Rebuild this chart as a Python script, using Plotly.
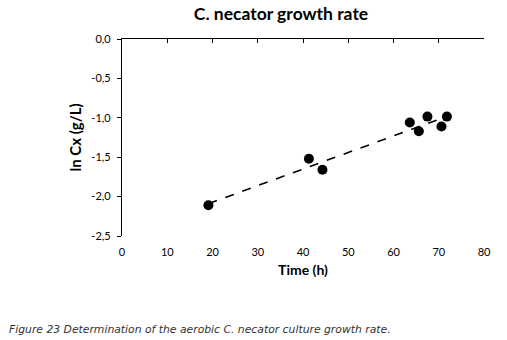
import numpy as np
import plotly.graph_objects as go

time_h = [19.1, 41.3, 44.3, 63.6, 65.6, 67.5, 70.6, 71.8]
ln_cx = [-2.11, -1.52, -1.66, -1.06, -1.17, -0.985, -1.11, -0.985]
x_ticks = [0, 10, 20, 30, 40, 50, 60, 70, 80]
y_ticks = [0.0, -0.5, -1.0, -1.5, -2.0, -2.5]
y_ticktext = [f"{v:.1f}".replace(".", ",") for v in y_ticks]

slope, intercept = np.polyfit(time_h, ln_cx, 1)
fit_x = [min(time_h), max(time_h)]
fit_y = [slope * v + intercept for v in fit_x]

FONT = "Lato"

fig = go.Figure()
fig.add_trace(go.Scatter(x=fit_x, y=fit_y, mode="lines",
                         line=dict(color="black", width=1.6, dash="dash"),
                         showlegend=False, hoverinfo="skip"))
fig.add_trace(go.Scatter(x=time_h, y=ln_cx, mode="markers",
                         marker=dict(color="black", size=10),
                         showlegend=False))
fig.add_trace(go.Scatter(x=[None], y=[None], xaxis="x2", showlegend=False))

fig.update_layout(
    width=507, height=340,
    margin=dict(l=122, r=23, t=39, b=104),
    paper_bgcolor="white", plot_bgcolor="white",
    font=dict(family=FONT, size=11, color="black"),
    title=dict(text="<b>C. necator growth rate</b>", x=281 / 507,
               xanchor="center", y=1 - 14 / 340, yanchor="middle",
               font=dict(family=FONT, size=17.5, color="black")),
    xaxis=dict(range=[0, 80], tickvals=x_ticks, showline=False, ticks="",
               showgrid=False, zeroline=False, ticklabelstandoff=8,
               title=dict(text="<b>Time (h)</b>", font=dict(family=FONT, size=14), standoff=8),
               tickfont=dict(family=FONT, size=11)),
    xaxis2=dict(range=[0, 80], overlaying="x", side="top", tickvals=x_ticks,
                showline=True, linecolor="black", linewidth=1.2,
                ticks="inside", ticklen=4, tickcolor="black", tickwidth=1,
                showticklabels=False, showgrid=False, zeroline=False),
    yaxis=dict(range=[-2.5, 0], tickvals=y_ticks, ticktext=y_ticktext,
               showline=True, linecolor="black", linewidth=1.2,
               ticks="outside", ticklen=4, tickcolor="black",
               showgrid=False, zeroline=False, ticklabelstandoff=4,
               title=dict(text="<b>ln Cx (g/L)</b>", font=dict(family=FONT, size=15), standoff=6),
               tickfont=dict(family=FONT, size=11)),
    annotations=[dict(text="<i>Figure 23 Determination of the aerobic C. necator culture growth rate.</i>",
                      xref="paper", yref="paper", x=-115 / 362, y=-(329 - 236) / 197,
                      xanchor="left", yanchor="middle", showarrow=False,
                      font=dict(family="DejaVu Sans", size=10.8, color="#333333"))],
)

fig.write_html("out.html")
